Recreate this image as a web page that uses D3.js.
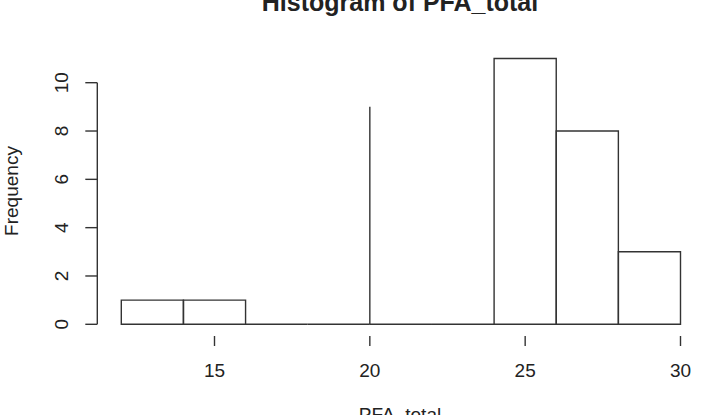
<!DOCTYPE html>
<html>
<head>
<meta charset="utf-8">
<script src="https://cdn.jsdelivr.net/npm/d3@7"></script>
<style>
  body { margin: 0; background: #fff; }
  text { font-family: "Liberation Sans", Arial, sans-serif; fill: #222; }
</style>
</head>
<body>
<svg width="702" height="415"></svg>
<script>
// bins of PFA_total (the zero width bin at 20 is how the picture shows it)
let binLeft = [12, 14, 16, 18, 20, 20, 22, 24, 26, 28];
let binRight = [14, 16, 18, 20, 20, 22, 24, 26, 28, 30];
let counts = [1, 1, 0, 0, 9, 0, 0, 11, 8, 3];
let xTicks = [15, 20, 25, 30];
let yTicks = [0, 2, 4, 6, 8, 10];

let svg = d3.select("svg");
let ink = "#333";

let x = d3.scaleLinear().domain([15, 30]).range([214.5, 680.5]);
let y = d3.scaleLinear().domain([0, 10]).range([324.3, 82.7]);

let bins = counts.map(function (c, i) {
  return { x0: binLeft[i], x1: binRight[i], n: c };
});

// paths instead of rects so a zero width bin still shows as a line
svg
  .selectAll("path.bar")
  .data(bins)
  .enter()
  .append("path")
  .attr("class", "bar")
  .attr("d", function (d) {
    let p = d3.path();
    p.moveTo(x(d.x0), y(0));
    p.lineTo(x(d.x0), y(d.n));
    p.lineTo(x(d.x1), y(d.n));
    p.lineTo(x(d.x1), y(0));
    p.closePath();
    return p.toString();
  })
  .attr("fill", "none")
  .attr("stroke", ink)
  .attr("stroke-width", 1.4);

// y axis, R style: labels parallel to the axis
let yAxis = svg.append("g").attr("transform", "translate(97.3,0)");
yAxis
  .append("line")
  .attr("y1", y(0))
  .attr("y2", y(10))
  .attr("stroke", ink)
  .attr("stroke-width", 1.4);
yAxis
  .selectAll("line.tick")
  .data(yTicks)
  .enter()
  .append("line")
  .attr("class", "tick")
  .attr("x1", -12)
  .attr("x2", 0)
  .attr("y1", function (d) {
    return y(d);
  })
  .attr("y2", function (d) {
    return y(d);
  })
  .attr("stroke", ink)
  .attr("stroke-width", 1.4);
yAxis
  .selectAll("text")
  .data(yTicks)
  .enter()
  .append("text")
  .attr("transform", function (d) {
    return "translate(-36," + y(d) + ") rotate(-90)";
  })
  .attr("text-anchor", "middle")
  .attr("dy", "0.35em")
  .style("font-size", "19px")
  .text(function (d) {
    return d;
  });

// x axis: only tick marks show in the picture
let xAxis = svg.append("g").attr("transform", "translate(0,336)");
xAxis
  .selectAll("line")
  .data(xTicks)
  .enter()
  .append("line")
  .attr("x1", function (d) {
    return x(d);
  })
  .attr("x2", function (d) {
    return x(d);
  })
  .attr("y1", 0)
  .attr("y2", 10)
  .attr("stroke", ink)
  .attr("stroke-width", 1.4);
xAxis
  .selectAll("text")
  .data(xTicks)
  .enter()
  .append("text")
  .attr("x", function (d) {
    return x(d);
  })
  .attr("y", 34)
  .attr("dy", "0.35em")
  .attr("text-anchor", "middle")
  .style("font-size", "19px")
  .text(function (d) {
    return d;
  });

svg
  .append("text")
  .attr("x", 400)
  .attr("y", 11)
  .attr("text-anchor", "middle")
  .style("font-size", "25px")
  .style("font-weight", "bold")
  .text("Histogram of PFA_total");

svg
  .append("text")
  .attr("x", 400)
  .attr("y", 421)
  .attr("text-anchor", "middle")
  .style("font-size", "19px")
  .text("PFA_total");

svg
  .append("text")
  .attr("transform", "translate(18,191) rotate(-90)")
  .attr("text-anchor", "middle")
  .style("font-size", "19px")
  .text("Frequency");
</script>
</body>
</html>
